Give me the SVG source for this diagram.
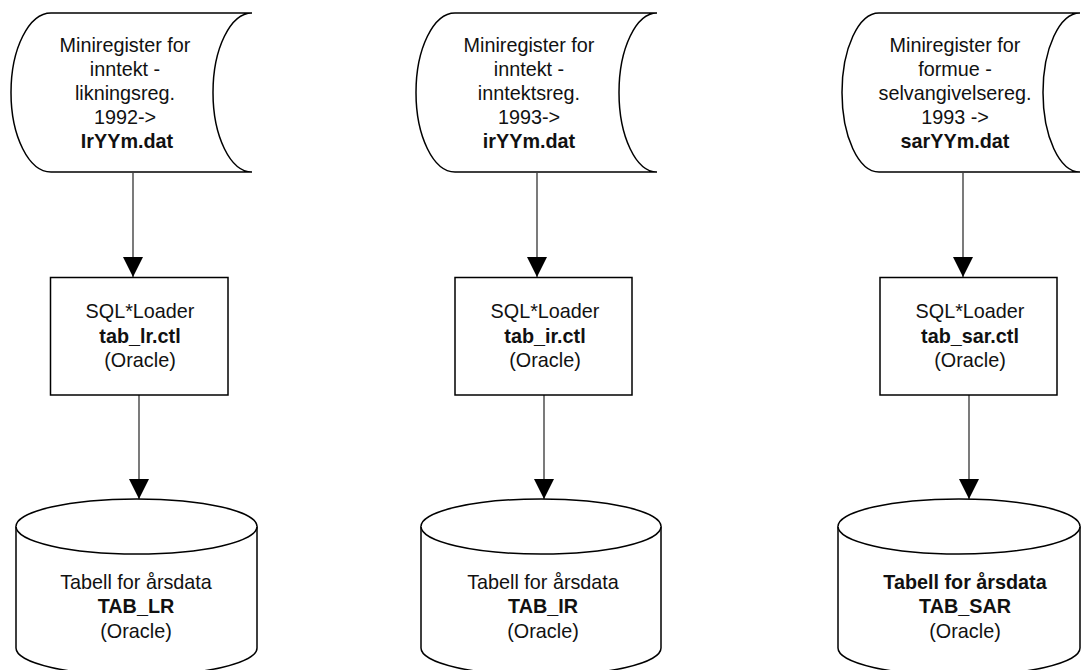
<svg xmlns="http://www.w3.org/2000/svg" width="1082" height="670" viewBox="0 0 1082 670">
<defs>
<style>
.shape{fill:#fff;stroke:#000;stroke-width:1.5;}
.edge{fill:none;stroke:#333;stroke-width:1.3;}
text{font-family:"Liberation Sans",Arial,sans-serif;font-size:19.8px;fill:#111;text-anchor:middle;}
.b{font-weight:bold;}
</style>
<marker id="arr" markerUnits="userSpaceOnUse" markerWidth="20" markerHeight="20" viewBox="0 0 18 18" refX="18" refY="9" orient="auto">
<path d="M0,0 L18,9 L0,18 Z" fill="#000"/>
</marker>
</defs>
<rect width="1082" height="670" fill="#fff"/>

<g id="connectors">
<line class="edge" x1="133" y1="173" x2="133" y2="277" marker-end="url(#arr)"/>
<line class="edge" x1="139" y1="395" x2="139" y2="499" marker-end="url(#arr)"/>
<line class="edge" x1="537" y1="173" x2="537" y2="277" marker-end="url(#arr)"/>
<line class="edge" x1="544" y1="395" x2="544" y2="499" marker-end="url(#arr)"/>
<line class="edge" x1="963" y1="173" x2="963" y2="277" marker-end="url(#arr)"/>
<line class="edge" x1="969" y1="395" x2="969" y2="499" marker-end="url(#arr)"/>
</g>

<g id="file-lr">
<path class="shape" d="M51,13 L252,13 A39,79.5 0 0 0 252,172 L51,172 A40,79.5 0 0 1 51,13 Z"/>
<text x="125" y="52">Miniregister for</text>
<text x="125" y="76">inntekt -</text>
<text x="125" y="100">likningsreg.</text>
<text x="125" y="124">1992-&gt;</text>
<text x="127" y="148" class="b">IrYYm.dat</text>
</g>

<g id="file-ir">
<path class="shape" d="M455,13 L657,13 A38,79.5 0 0 0 657,172 L455,172 A39,79.5 0 0 1 455,13 Z"/>
<text x="529" y="52">Miniregister for</text>
<text x="529" y="76">inntekt -</text>
<text x="529" y="100">inntektsreg.</text>
<text x="529" y="124">1993-&gt;</text>
<text x="529" y="148" class="b">irYYm.dat</text>
</g>

<g id="file-sar">
<path class="shape" d="M879,13 L1080,13 A37,79.5 0 0 0 1080,172 L879,172 A37,79.5 0 0 1 879,13 Z"/>
<text x="955" y="52">Miniregister for</text>
<text x="955" y="76">formue -</text>
<text x="955" y="100">selvangivelsereg.</text>
<text x="955" y="124">1993 -&gt;</text>
<text x="955" y="148" class="b">sarYYm.dat</text>
</g>

<g id="loader-lr">
<rect class="shape" x="50.5" y="277.5" width="177.5" height="117.5"/>
<text x="140" y="318">SQL*Loader</text>
<text x="140" y="342.5" class="b">tab_lr.ctl</text>
<text x="140" y="367">(Oracle)</text>
</g>

<g id="loader-ir">
<rect class="shape" x="455" y="277.5" width="177" height="117.5"/>
<text x="545" y="318">SQL*Loader</text>
<text x="545" y="342.5" class="b">tab_ir.ctl</text>
<text x="545" y="367">(Oracle)</text>
</g>

<g id="loader-sar">
<rect class="shape" x="880" y="277.5" width="177" height="117.5"/>
<text x="970" y="318">SQL*Loader</text>
<text x="970" y="342.5" class="b">tab_sar.ctl</text>
<text x="970" y="367">(Oracle)</text>
</g>

<g id="table-lr">
<path class="shape" d="M16,526.5 L16,648 A120.5,27.5 0 0 0 257,648 L257,526.5 A120.5,27.5 0 0 0 16,526.5 Z"/>
<path class="shape" fill="none" d="M16,526.5 A120.5,27.5 0 0 0 257,526.5"/>
<text x="136" y="589">Tabell for årsdata</text>
<text x="136" y="613" class="b">TAB_LR</text>
<text x="136" y="638">(Oracle)</text>
</g>

<g id="table-ir">
<path class="shape" d="M421,526.5 L421,648 A120,27.5 0 0 0 661,648 L661,526.5 A120,27.5 0 0 0 421,526.5 Z"/>
<path class="shape" fill="none" d="M421,526.5 A120,27.5 0 0 0 661,526.5"/>
<text x="543" y="589">Tabell for årsdata</text>
<text x="543" y="613" class="b">TAB_IR</text>
<text x="543" y="638">(Oracle)</text>
</g>

<g id="table-sar">
<path class="shape" d="M838,526.5 L838,648 A121,27.5 0 0 0 1080,648 L1080,526.5 A121,27.5 0 0 0 838,526.5 Z"/>
<path class="shape" fill="none" d="M838,526.5 A121,27.5 0 0 0 1080,526.5"/>
<text x="965" y="589" class="b">Tabell for årsdata</text>
<text x="965" y="613" class="b">TAB_SAR</text>
<text x="965" y="638">(Oracle)</text>
</g>
</svg>
